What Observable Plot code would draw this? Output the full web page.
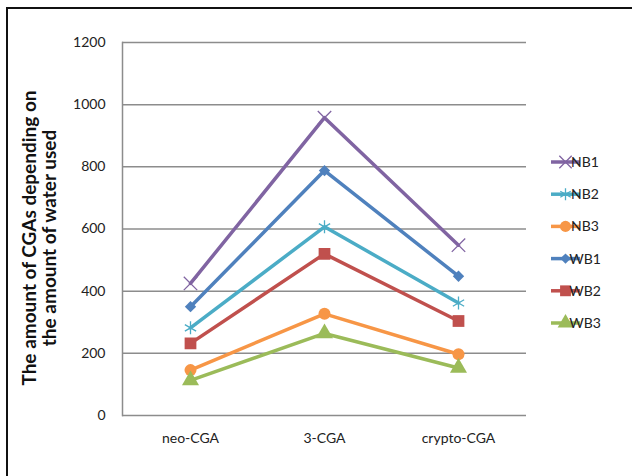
<!DOCTYPE html>
<html>
<head>
<meta charset="utf-8">
<script src="https://cdn.jsdelivr.net/npm/d3@7"></script>
<script src="https://cdn.jsdelivr.net/npm/@observablehq/plot@0.6"></script>
<style>
  html, body { margin: 0; padding: 0; background: #fff; }
  #chart { position: relative; width: 632px; height: 476px; }
  #frame { position: absolute; left: 6px; top: 7px; right: -4px; bottom: -4px; border: 2px solid #111; pointer-events: none; }
</style>
</head>
<body>
<div id="chart"><div id="frame"></div></div>
<script>
// CGA compounds measured along the x axis
const categories = ["neo-CGA", "3-CGA", "crypto-CGA"];

// One array per extraction series, in category order
const NB1 = [425, 958, 548];
const NB2 = [282, 607, 362];
const NB3 = [146, 327, 197];
const WB1 = [350, 788, 448];
const WB2 = [232, 520, 304];
const WB3 = [113, 264, 153];

const seriesNames = ["NB1", "NB2", "NB3", "WB1", "WB2", "WB3"];
const seriesValues = [NB1, NB2, NB3, WB1, WB2, WB3];
const seriesColors = ["#8064A2", "#4BACC6", "#F79646", "#4F81BD", "#C0504D", "#9BBB59"];
const seriesSymbols = ["times", "asterisk", "circle", "diamond2", "square", "triangle"];
const seriesFilled = [false, false, true, true, true, true];
const seriesSizes = [38, 38, 36, 26, 44, 40];

const yTicks = [0, 200, 400, 600, 800, 1000, 1200];
const yTitle = ["The amount of CGAs depending on", "the amount of water used"];

const rows = seriesNames.flatMap((s, i) =>
  categories.map((c, j) => ({series: s, cat: c, value: seriesValues[i][j]}))
);

const W = 632, H = 476;
const margin = {left: 122, right: 106, top: 42, bottom: 61};
const font = "Lato, 'Open Sans', sans-serif";

const marks = [
  Plot.gridY(yTicks, {stroke: "#8c8c8c", strokeOpacity: 1, strokeWidth: 1.5}),
  Plot.frame({anchor: "left", stroke: "#8c8c8c", strokeWidth: 1.5}),
  Plot.axisY(yTicks, {tickSize: 0, tickPadding: 17, fontSize: 14, fill: "#222", tickFormat: d3.format("d")}),
  Plot.axisX({tickSize: 0, tickPadding: 18, fontSize: 14, fill: "#222", label: null})
];

seriesNames.forEach((s, i) => {
  const data = rows.filter(d => d.series === s);
  marks.push(Plot.line(data, {x: "cat", y: "value", stroke: seriesColors[i], strokeWidth: 3.5}));
  marks.push(Plot.dot(data, {
    x: "cat", y: "value",
    symbol: () => seriesSymbols[i],
    r: Math.sqrt(seriesSizes[i]),
    fill: seriesFilled[i] ? seriesColors[i] : "none",
    stroke: seriesColors[i],
    strokeWidth: seriesFilled[i] ? 0 : 1.3
  }));
});

const svg = Plot.plot({
  width: W, height: H,
  marginLeft: margin.left, marginRight: margin.right,
  marginTop: margin.top, marginBottom: margin.bottom,
  style: {fontFamily: font, background: "transparent", overflow: "visible"},
  x: {type: "point", domain: categories, padding: 0.5, label: null},
  y: {domain: [0, 1200], label: null},
  symbol: {type: "identity"},
  marks
});

const root = d3.select(svg);

// Rotated two-line axis title
const title = root.append("text")
  .attr("transform", `translate(46, 238) rotate(-90)`)
  .attr("text-anchor", "middle")
  .style("font-family", font)
  .style("font-weight", "bold")
  .style("font-size", "19px")
  .attr("fill", "#111");
yTitle.forEach((t, k) => title.append("tspan").attr("x", 0).attr("dy", k === 0 ? "-0.55em" : "1.1em").text(t));

// Legend to the right of the plot area
const shapes = {times: d3.symbolTimes, asterisk: d3.symbolAsterisk, circle: d3.symbolCircle,
                diamond2: d3.symbolDiamond2, square: d3.symbolSquare, triangle: d3.symbolTriangle};
const legendX = 551, legendLen = 29;
const legendY0 = 162, legendStep = 32.2;
seriesNames.forEach((s, i) => {
  const g = root.append("g").attr("transform", `translate(${legendX}, ${legendY0 + i * legendStep})`);
  g.append("line").attr("x1", 0).attr("x2", legendLen).attr("stroke", seriesColors[i]).attr("stroke-width", 3.5);
  g.append("path")
    .attr("transform", `translate(${legendLen / 2},0)`)
    .attr("d", d3.symbol(shapes[seriesSymbols[i]], seriesSizes[i] * Math.PI * 0.85)())
    .attr("fill", seriesFilled[i] ? seriesColors[i] : "none")
    .attr("stroke", seriesFilled[i] ? "none" : seriesColors[i])
    .attr("stroke-width", 1.3);
  g.append("text").attr("x", legendLen + 5).attr("dy", "0.35em")
    .style("font-family", font).style("font-size", "14px").attr("fill", "#222").text(s);
});

document.getElementById("chart").prepend(svg);
</script>
</body>
</html>
